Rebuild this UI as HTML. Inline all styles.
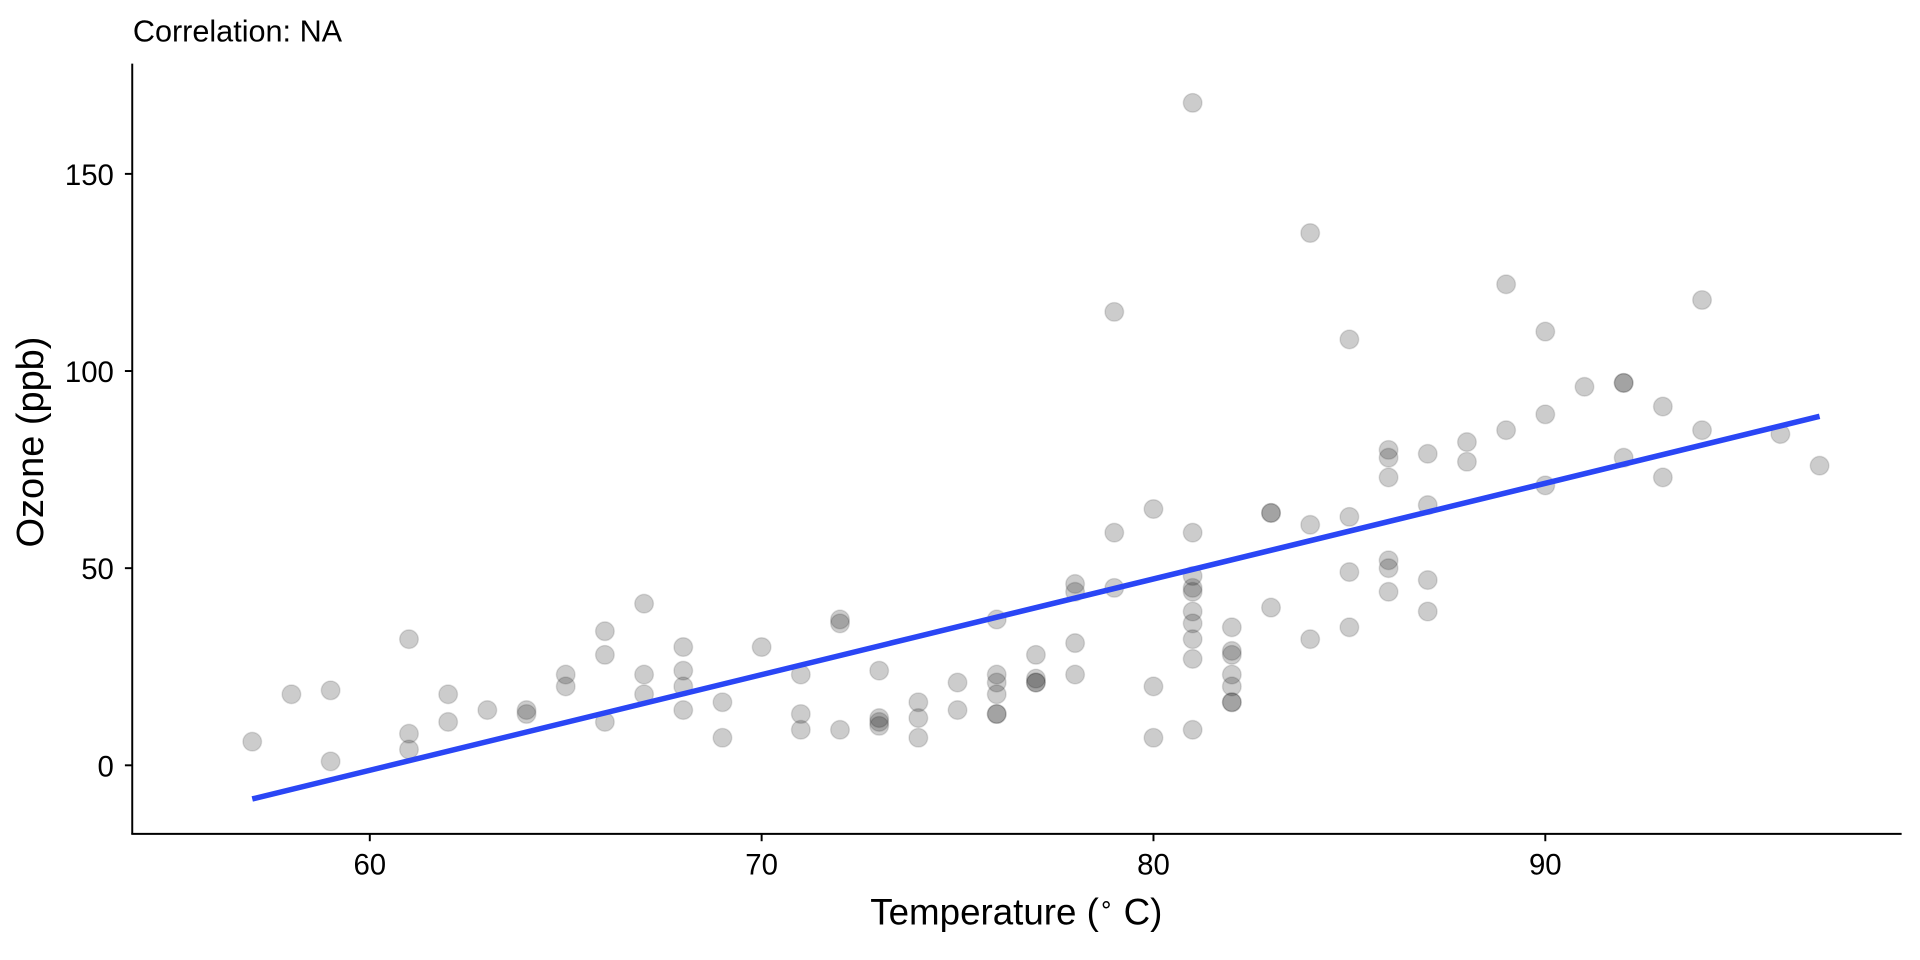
<!DOCTYPE html>
<html><head><meta charset="utf-8"><style>
html,body{margin:0;padding:0;background:#fff;}
svg{display:block;}
text{font-family:"Liberation Sans",Arial,sans-serif;fill:#000;}
</style></head><body>
<svg id="s" width="1920" height="960" viewBox="0 0 1568 784" xmlns="http://www.w3.org/2000/svg">
<rect width="1568" height="784" fill="#fff"/>
<text x="108.5" y="34" font-size="25">Correlation: NA</text>
<g id="pts"></g>
<line x1="206" y1="652.5" x2="1486" y2="340" stroke="#2a46f5" stroke-width="4.5"/>
<line x1="108" y1="52" x2="108" y2="681" stroke="#000" stroke-width="1.6"/>
<line x1="107.2" y1="681" x2="1553" y2="681" stroke="#000" stroke-width="1.6"/>
<g stroke="#000" stroke-width="1.6">
<line x1="102" y1="625" x2="108" y2="625"/><line x1="102" y1="464" x2="108" y2="464"/>
<line x1="102" y1="303" x2="108" y2="303"/><line x1="102" y1="142" x2="108" y2="142"/>
<line x1="302" y1="681" x2="302" y2="687"/><line x1="622" y1="681" x2="622" y2="687"/>
<line x1="942" y1="681" x2="942" y2="687"/><line x1="1262" y1="681" x2="1262" y2="687"/>
</g>
<g font-size="24" text-anchor="end">
<text x="93" y="634">0</text><text x="93" y="473">50</text>
<text x="93" y="312">100</text><text x="93" y="151">150</text>
</g>
<g font-size="24" text-anchor="middle">
<text x="302" y="714">60</text><text x="622" y="714">70</text>
<text x="942" y="714">80</text><text x="1262" y="714">90</text>
</g>
<text x="830" y="755" font-size="30" text-anchor="middle">Temperature (<tspan font-size="19" dy="-10">∘</tspan><tspan dy="10"> C)</tspan></text>
<text transform="translate(35,361) rotate(-90)" font-size="31" text-anchor="middle">Ozone (ppb)</text>
</svg>
<script>
var T=[67,72,74,62,56,66,65,59,61,69,74,69,66,68,58,64,66,57,68,62,59,73,61,61,57,58,57,67,81,79,76,78,74,67,84,85,79,82,87,90,87,93,92,82,80,79,77,72,65,73,76,77,76,76,76,75,78,73,80,77,83,84,85,81,84,83,83,88,92,92,89,82,73,81,91,80,81,82,84,87,85,74,81,82,86,85,82,86,88,86,83,81,81,81,82,86,85,87,89,90,90,92,86,86,82,80,79,77,79,76,78,78,77,72,75,79,81,86,88,97,94,96,94,91,92,93,93,87,84,80,78,75,73,81,76,77,71,71,78,67,76,68,82,64,71,81,69,63,70,77,75,76,68];
var N=null;
var O=[41,36,12,18,N,28,23,19,8,N,7,16,11,14,18,14,34,6,30,11,1,11,4,32,N,N,N,23,45,115,37,N,N,N,N,N,N,29,N,71,39,N,N,23,N,N,21,37,20,12,13,N,N,N,N,N,N,N,N,N,N,135,49,32,N,64,40,77,97,97,85,N,10,27,N,7,48,35,61,79,63,16,N,N,80,108,20,52,82,50,64,59,39,9,16,78,35,66,122,89,110,N,N,44,28,65,N,22,59,23,31,44,21,9,N,45,168,73,N,76,118,84,85,96,78,73,91,47,32,20,23,21,24,44,21,28,9,13,46,18,13,24,16,13,23,36,7,14,30,N,14,18,20];
var g=document.getElementById('pts'),h='';
for(var i=0;i<T.length;i++){if(O[i]===null)continue;
var x=302+(T[i]-60)*32,y=625-O[i]*3.22;
h+='<circle cx="'+x+'" cy="'+y.toFixed(1)+'" r="7.6" fill="#000" fill-opacity="0.2" stroke="#000" stroke-opacity="0.12" stroke-width="1.2"/>';}
g.innerHTML=h;
</script>
</body></html>
